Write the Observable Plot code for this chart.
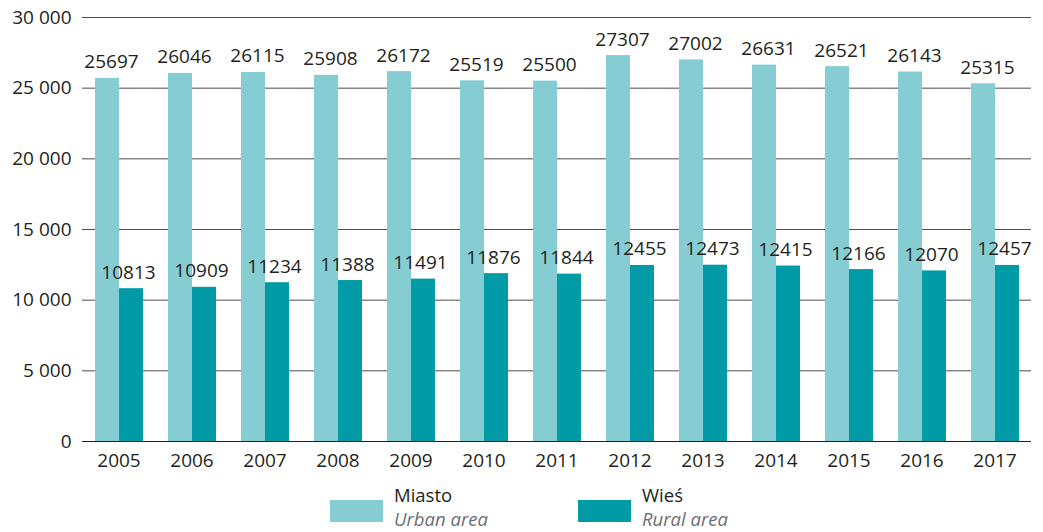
<!DOCTYPE html>
<html>
<head>
<meta charset="utf-8">
<script src="https://cdn.jsdelivr.net/npm/d3@7"></script>
<script src="https://cdn.jsdelivr.net/npm/@observablehq/plot@0.6"></script>
<style>
  body { margin: 0; background: #fff; font-family: "Open Sans", sans-serif; }
  #legend { position: relative; height: 58px; }
  .item { position: absolute; top: 0; display: flex; }
  .sw { width: 53px; height: 22px; margin-top: 26px; }
  .lab { margin-left: 11px; font-size: 18.5px; color: #231f20; margin-top: 9px; }
  .lab div { line-height: 24px; height: 24px; white-space: nowrap; }
  .lab .en { color: #6d6e71; font-style: italic; }
</style>
</head>
<body>
<div id="chart"></div>
<div id="legend"></div>
<script>
const years = [2005, 2006, 2007, 2008, 2009, 2010, 2011, 2012, 2013, 2014, 2015, 2016, 2017];
const urban = [25697, 26046, 26115, 25908, 26172, 25519, 25500, 27307, 27002, 26631, 26521, 26143, 25315];
const rural = [10813, 10909, 11234, 11388, 11491, 11876, 11844, 12455, 12473, 12415, 12166, 12070, 12457];
const seriesNames = ["Miasto", "Wieś"];
const seriesSub = ["Urban area", "Rural area"];
const colors = ["#86cdd3", "#009ba7"];
const yTicks = [0, 5000, 10000, 15000, 20000, 25000, 30000];

const data = [];
years.forEach((y, i) => {
  data.push({year: y, series: seriesNames[0], value: urban[i]});
  data.push({year: y, series: seriesNames[1], value: rural[i]});
});
const urbanData = data.filter(d => d.series === seriesNames[0]);
const ruralData = data.filter(d => d.series === seriesNames[1]);
const fmt = d => d3.format(",")(d).replace(/,/g, " ");

const chart = Plot.plot({
  width: 1043,
  height: 474,
  marginTop: 17,
  marginBottom: 33,
  marginLeft: 81,
  marginRight: 11,
  style: {fontFamily: "Open Sans", fontSize: "19px", color: "#231f20", background: "#fff"},
  fx: {domain: years, padding: 0, label: null},
  x: {domain: seriesNames, paddingInner: 0, paddingOuter: 0.486, axis: null},
  y: {domain: [0, 30000], label: null},
  color: {domain: seriesNames, range: colors},
  marks: [
    Plot.gridY(yTicks, {stroke: "#4d4d4d", strokeOpacity: 1, strokeWidth: 1}),
    Plot.axisY(yTicks, {tickSize: 0, tickPadding: 11, tickFormat: fmt, label: null, fontSize: 19}),
    Plot.axisFx({anchor: "bottom", tickSize: 0, tickPadding: 12, label: null, fontSize: 19, tickFormat: d => String(d)}),
    Plot.barY(data, {fx: "year", x: "series", y: "value", fill: "series"}),
    Plot.ruleY([0], {stroke: "#231f20", strokeWidth: 1.2}),
    Plot.text(urbanData, {fx: "year", x: "series", y: "value", text: d => String(d.value),
      dx: 4, lineAnchor: "bottom", dy: -10, fill: "#231f20", fontSize: 19}),
    Plot.text(ruralData, {fx: "year", x: "series", y: "value", text: d => String(d.value),
      dx: -3, lineAnchor: "bottom", dy: -10, fill: "#231f20", fontSize: 19})
  ]
});
document.getElementById("chart").appendChild(chart);

const legend = document.getElementById("legend");
const lefts = [330, 578];
seriesNames.forEach((s, i) => {
  const it = document.createElement("div");
  it.className = "item";
  it.style.left = lefts[i] + "px";
  it.innerHTML = `<div class="sw" style="background:${colors[i]}"></div><div class="lab"><div>${s}</div><div class="en">${seriesSub[i]}</div></div>`;
  legend.appendChild(it);
});
</script>
</body>
</html>
